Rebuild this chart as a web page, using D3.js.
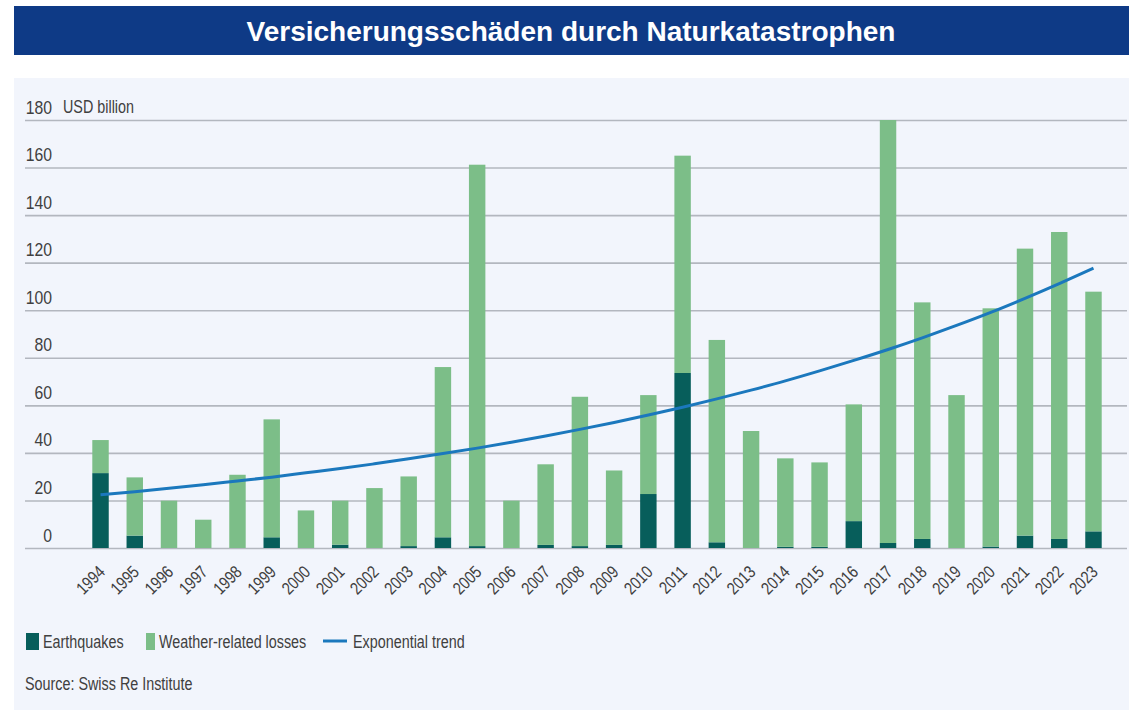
<!DOCTYPE html>
<html>
<head>
<meta charset="utf-8">
<script src="https://cdn.jsdelivr.net/npm/d3@7"></script>
<style>
  body { margin: 0; background: #ffffff; }
  #chart { width: 1132px; height: 710px; }
  svg text { font-family: "Liberation Sans", Arial, sans-serif; }
</style>
</head>
<body>
<div id="chart"></div>
<script>
const years = ["1994", "1995", "1996", "1997", "1998", "1999", "2000", "2001", "2002", "2003",
  "2004", "2005", "2006", "2007", "2008", "2009", "2010", "2011", "2012", "2013",
  "2014", "2015", "2016", "2017", "2018", "2019", "2020", "2021", "2022", "2023"];

// USD billion
const earthquakes = [31.5, 5.2, 0, 0, 0, 4.5, 0, 1.4, 0, 0.8,
  4.5, 0.8, 0, 1.3, 0.8, 1.3, 22.7, 73.6, 2.4, 0,
  0.5, 0.5, 11.3, 2.1, 3.8, 0, 0.6, 5.2, 3.8, 7.0];

const weatherLosses = [13.9, 24.5, 19.9, 11.9, 30.8, 49.6, 15.8, 18.5, 25.2, 29.3,
  71.6, 160.4, 19.9, 33.9, 62.8, 31.3, 41.6, 91.4, 85.1, 49.2,
  37.2, 35.5, 49.1, 177.9, 99.5, 64.3, 100.2, 120.7, 129.1, 100.8];

const trend = [22.4, 23.7, 25.1, 26.6, 28.2, 29.8, 31.6, 33.4, 35.4, 37.5,
  39.7, 42.0, 44.5, 47.1, 49.9, 52.8, 55.9, 59.2, 62.7, 66.4,
  70.3, 74.5, 78.9, 83.5, 88.4, 93.6, 99.1, 105.0, 111.2, 117.7];

const yTicks = [0, 20, 40, 60, 80, 100, 120, 140, 160, 180];

const legendItems = ["Earthquakes", "Weather-related losses", "Exponential trend"];

let width = 1132;
let height = 710;
let colorQuake = "#075e5b";
let colorWeather = "#7cbe88";
let colorTrend = "#1b78bd";
let textColor = "#404040";
// the source uses a narrow face; squeeze a regular one
let narrow = "scale(0.82, 1)";

let svg = d3.select("#chart").append("svg")
  .attr("width", width)
  .attr("height", height);

// title bar
svg.append("rect")
  .attr("x", 14)
  .attr("y", 6)
  .attr("width", 1115)
  .attr("height", 49)
  .attr("fill", "#0e3a86");

svg.append("text")
  .attr("x", 571)
  .attr("y", 31)
  .attr("dy", ".35em")
  .attr("text-anchor", "middle")
  .attr("fill", "#ffffff")
  .style("font-weight", "bold")
  .style("font-size", "28px")
  .text("Versicherungsschäden durch Naturkatastrophen");

// panel
svg.append("rect")
  .attr("x", 14)
  .attr("y", 78)
  .attr("width", 1115)
  .attr("height", 632)
  .attr("fill", "#f2f5fc");

let data = years.map(function(d, i) {
  return { year: d, quake: earthquakes[i], weather: weatherLosses[i], trend: trend[i] };
});

let x = d3.scaleBand()
  .domain(years)
  .range([83.4, 1110.6])
  .paddingInner(0.52)
  .paddingOuter(0.26);

let y = d3.scaleLinear()
  .domain([0, 180])
  .range([548, 120]);

// gridlines + y labels
let yAxis = d3.axisLeft(y)
  .tickValues(yTicks)
  .tickSize(0)
  .tickFormat(d3.format("d"));

let grid = svg.append("g")
  .attr("class", "grid")
  .attr("transform", "translate(52, 0)")
  .call(yAxis);

grid.select(".domain").remove();

grid.selectAll(".tick line")
  .attr("x1", -27)
  .attr("x2", 1075)
  .attr("stroke", "#b3b7bf")
  .attr("stroke-width", 1.6);

grid.selectAll(".tick text")
  .attr("x", 0)
  .attr("y", -7)
  .attr("dy", 0)
  .attr("text-anchor", "end")
  .attr("transform", "scale(0.9, 1)")
  .attr("fill", textColor)
  .style("font-size", "17.5px");

svg.append("text")
  .attr("transform", `translate(63, ${y(180) - 7}) ${narrow}`)
  .attr("fill", textColor)
  .style("font-size", "17.5px")
  .text("USD billion");

// stacked bars
let stack = d3.stack().keys(["quake", "weather"]);
let series = stack(data);
let colors = { quake: colorQuake, weather: colorWeather };

svg.append("g")
  .selectAll("g")
  .data(series)
  .enter()
  .append("g")
  .attr("fill", function(d) { return colors[d.key]; })
  .selectAll("rect")
  .data(function(d) { return d; })
  .enter()
  .append("rect")
  .attr("x", function(d) { return x(d.data.year); })
  .attr("y", function(d) { return y(d[1]); })
  .attr("width", x.bandwidth())
  .attr("height", function(d) { return y(d[0]) - y(d[1]); });

// x axis labels
let xAxis = d3.axisBottom(x)
  .tickSize(0);

let xg = svg.append("g")
  .attr("transform", "translate(0, 548)")
  .call(xAxis);

xg.select(".domain").remove();

xg.selectAll(".tick text")
  .attr("text-anchor", "end")
  .attr("dy", 0)
  .attr("y", 0)
  .attr("transform", `translate(5.5, 25) rotate(-45) ${narrow}`)
  .attr("fill", textColor)
  .style("font-size", "17.5px");

// trend line
let line = d3.line()
  .x(function(d) { return x(d.year) + x.bandwidth() / 2; })
  .y(function(d) { return y(d.trend); })
  .curve(d3.curveMonotoneX);

svg.append("path")
  .datum(data)
  .attr("d", line)
  .attr("fill", "none")
  .attr("stroke", colorTrend)
  .attr("stroke-width", 3);

// legend
let legend = svg.append("g")
  .attr("class", "legend")
  .style("font-size", "17.5px")
  .attr("fill", textColor);

legend.append("rect")
  .attr("x", 26).attr("y", 633)
  .attr("width", 13).attr("height", 17)
  .attr("fill", colorQuake);

legend.append("text")
  .attr("transform", `translate(43, 648) ${narrow}`)
  .text(legendItems[0]);

legend.append("rect")
  .attr("x", 146).attr("y", 633)
  .attr("width", 9).attr("height", 17)
  .attr("fill", colorWeather);

legend.append("text")
  .attr("transform", `translate(159, 648) ${narrow}`)
  .text(legendItems[1]);

legend.append("line")
  .attr("x1", 323).attr("x2", 347)
  .attr("y1", 641).attr("y2", 641)
  .attr("stroke", colorTrend)
  .attr("stroke-width", 3);

legend.append("text")
  .attr("transform", `translate(353, 648) ${narrow}`)
  .text(legendItems[2]);

svg.append("text")
  .attr("transform", `translate(25, 690) ${narrow}`)
  .attr("fill", textColor)
  .style("font-size", "17.5px")
  .text("Source: Swiss Re Institute");
</script>
</body>
</html>
